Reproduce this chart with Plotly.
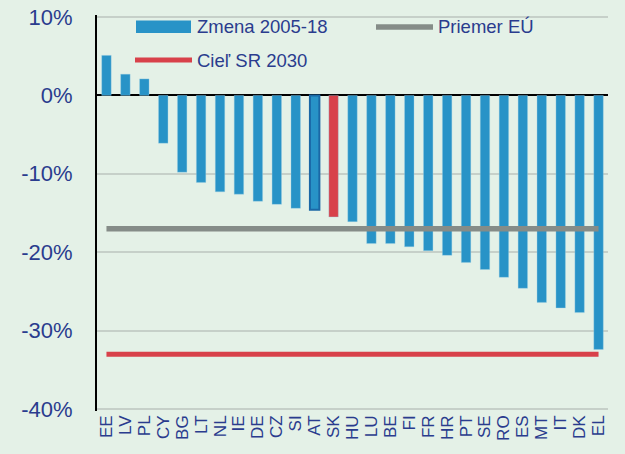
import plotly.graph_objects as go

# ---------------------------------------------------------------------------
# data
# ---------------------------------------------------------------------------
countries = ['EE', 'LV', 'PL', 'CY', 'BG', 'LT', 'NL', 'IE', 'DE', 'CZ', 'SI',
             'AT', 'SK', 'HU', 'LU', 'BE', 'FI', 'FR', 'HR', 'PT', 'SE', 'RO',
             'ES', 'MT', 'IT', 'DK', 'EL']
change_2005_18 = [5.1, 2.7, 2.1, -6.1, -9.8, -11.1, -12.3, -12.6, -13.5, -13.9,
                  -14.4, -14.6, -15.5, -16.1, -18.9, -18.9, -19.3, -19.8, -20.4,
                  -21.3, -22.2, -23.2, -24.6, -26.4, -27.1, -27.7, -32.4]
eu_average = -17.0
sk_target_2030 = -33.0

y_ticks = [10, 0, -10, -20, -30, -40]
y_tick_text = ['10%', '0%', '-10%', '-20%', '-30%', '-40%']

# ---------------------------------------------------------------------------
# styling
# ---------------------------------------------------------------------------
BG = '#E4F1E7'
TXT = '#2A3C8E'
BLUE = '#2893C7'
RED = '#D8414A'
GREY = '#858C88'
GRID = '#C6D0C9'
FONT = 'Liberation Sans, Arial, sans-serif'

bar_colors = [RED if c == 'SK' else BLUE for c in countries]
bar_edges = ['#1B68A6' if c == 'AT' else 'rgba(160,210,230,0.6)' for c in countries]
bar_edge_w = [2 if c == 'AT' else 0.6 for c in countries]

fig = go.Figure()

fig.add_trace(go.Bar(
    x=countries, y=change_2005_18,
    marker=dict(color=bar_colors, line=dict(color=bar_edges, width=bar_edge_w)),
    width=0.5, name='Zmena 2005-18', showlegend=False,
))

fig.add_trace(go.Scatter(
    x=countries, y=[eu_average] * len(countries), mode='lines',
    line=dict(color=GREY, width=5.5), name='Priemer EÚ', showlegend=False,
))

fig.add_trace(go.Scatter(
    x=countries, y=[sk_target_2030] * len(countries), mode='lines',
    line=dict(color=RED, width=5), name='Cieľ SR 2030', showlegend=False,
))

W, H = 511.0, 396.0   # plot area size in px
L, T = 97.0, 15.0     # plot area offset


def px_x(x):
    return (x - L) / W


def px_y(y):
    return 1 - (y - T) / H


# gridlines at the two outer ticks (plotly drops them at the plot edge)
shapes = [
    dict(type='line', xref='paper', yref='y', x0=0, x1=1, y0=v, y1=v,
         line=dict(color=GRID, width=1.5), layer='below')
    for v in (y_ticks[0], y_ticks[-1])
]

# hand-drawn legend (wide symbols as in the original)
shapes += [
    dict(type='rect', xref='paper', yref='paper',
         x0=px_x(136), x1=px_x(191), y0=px_y(33), y1=px_y(20.5),
         fillcolor=BLUE, line=dict(width=0)),
    dict(type='line', xref='paper', yref='paper',
         x0=px_x(135), x1=px_x(192), y0=px_y(60), y1=px_y(60),
         line=dict(color=RED, width=5)),
    dict(type='line', xref='paper', yref='paper',
         x0=px_x(376), x1=px_x(433), y0=px_y(27), y1=px_y(27),
         line=dict(color=GREY, width=5.5)),
]

legend_items = [('Zmena 2005-18', 195, 27), ('Cieľ SR 2030', 195, 60),
                ('Priemer EÚ', 436, 27)]
annotations = [
    dict(text=t, xref='paper', yref='paper', x=px_x(x), y=px_y(y),
         xanchor='left', yanchor='middle', showarrow=False,
         font=dict(size=18.5, color=TXT, family=FONT))
    for t, x, y in legend_items
]

fig.update_layout(
    width=625, height=454,
    margin=dict(l=L, r=625 - L - W, t=T, b=454 - T - H),
    paper_bgcolor=BG, plot_bgcolor=BG,
    font=dict(family=FONT, color=TXT),
    bargap=0.5,
    shapes=shapes, annotations=annotations,
    xaxis=dict(
        tickangle=-90, tickfont=dict(size=17, color=TXT),
        tickmode='array', tickvals=countries, ticktext=countries,
        showgrid=False, showline=False, ticks='', ticklen=0,
        range=[-0.5, len(countries) - 0.5], automargin=False,
    ),
    yaxis=dict(
        range=[-40.25, 10.25], tickvals=y_ticks, ticktext=y_tick_text,
        tickfont=dict(size=22, color=TXT),
        showgrid=True, gridcolor=GRID, gridwidth=1.5,
        zeroline=True, zerolinecolor='black', zerolinewidth=2,
        showline=True, linecolor='black', linewidth=2,
        ticks='', ticklabelstandoff=18, automargin=False,
        ticklabeloverflow='allow',
    ),
)

# drop the default page margin so the figure fills the window
page_css = ("document.body.style.margin='0';"
            "document.body.style.background='%s';" % BG)

fig.write_html('out.html', post_script=page_css,
               config=dict(displayModeBar=False))
